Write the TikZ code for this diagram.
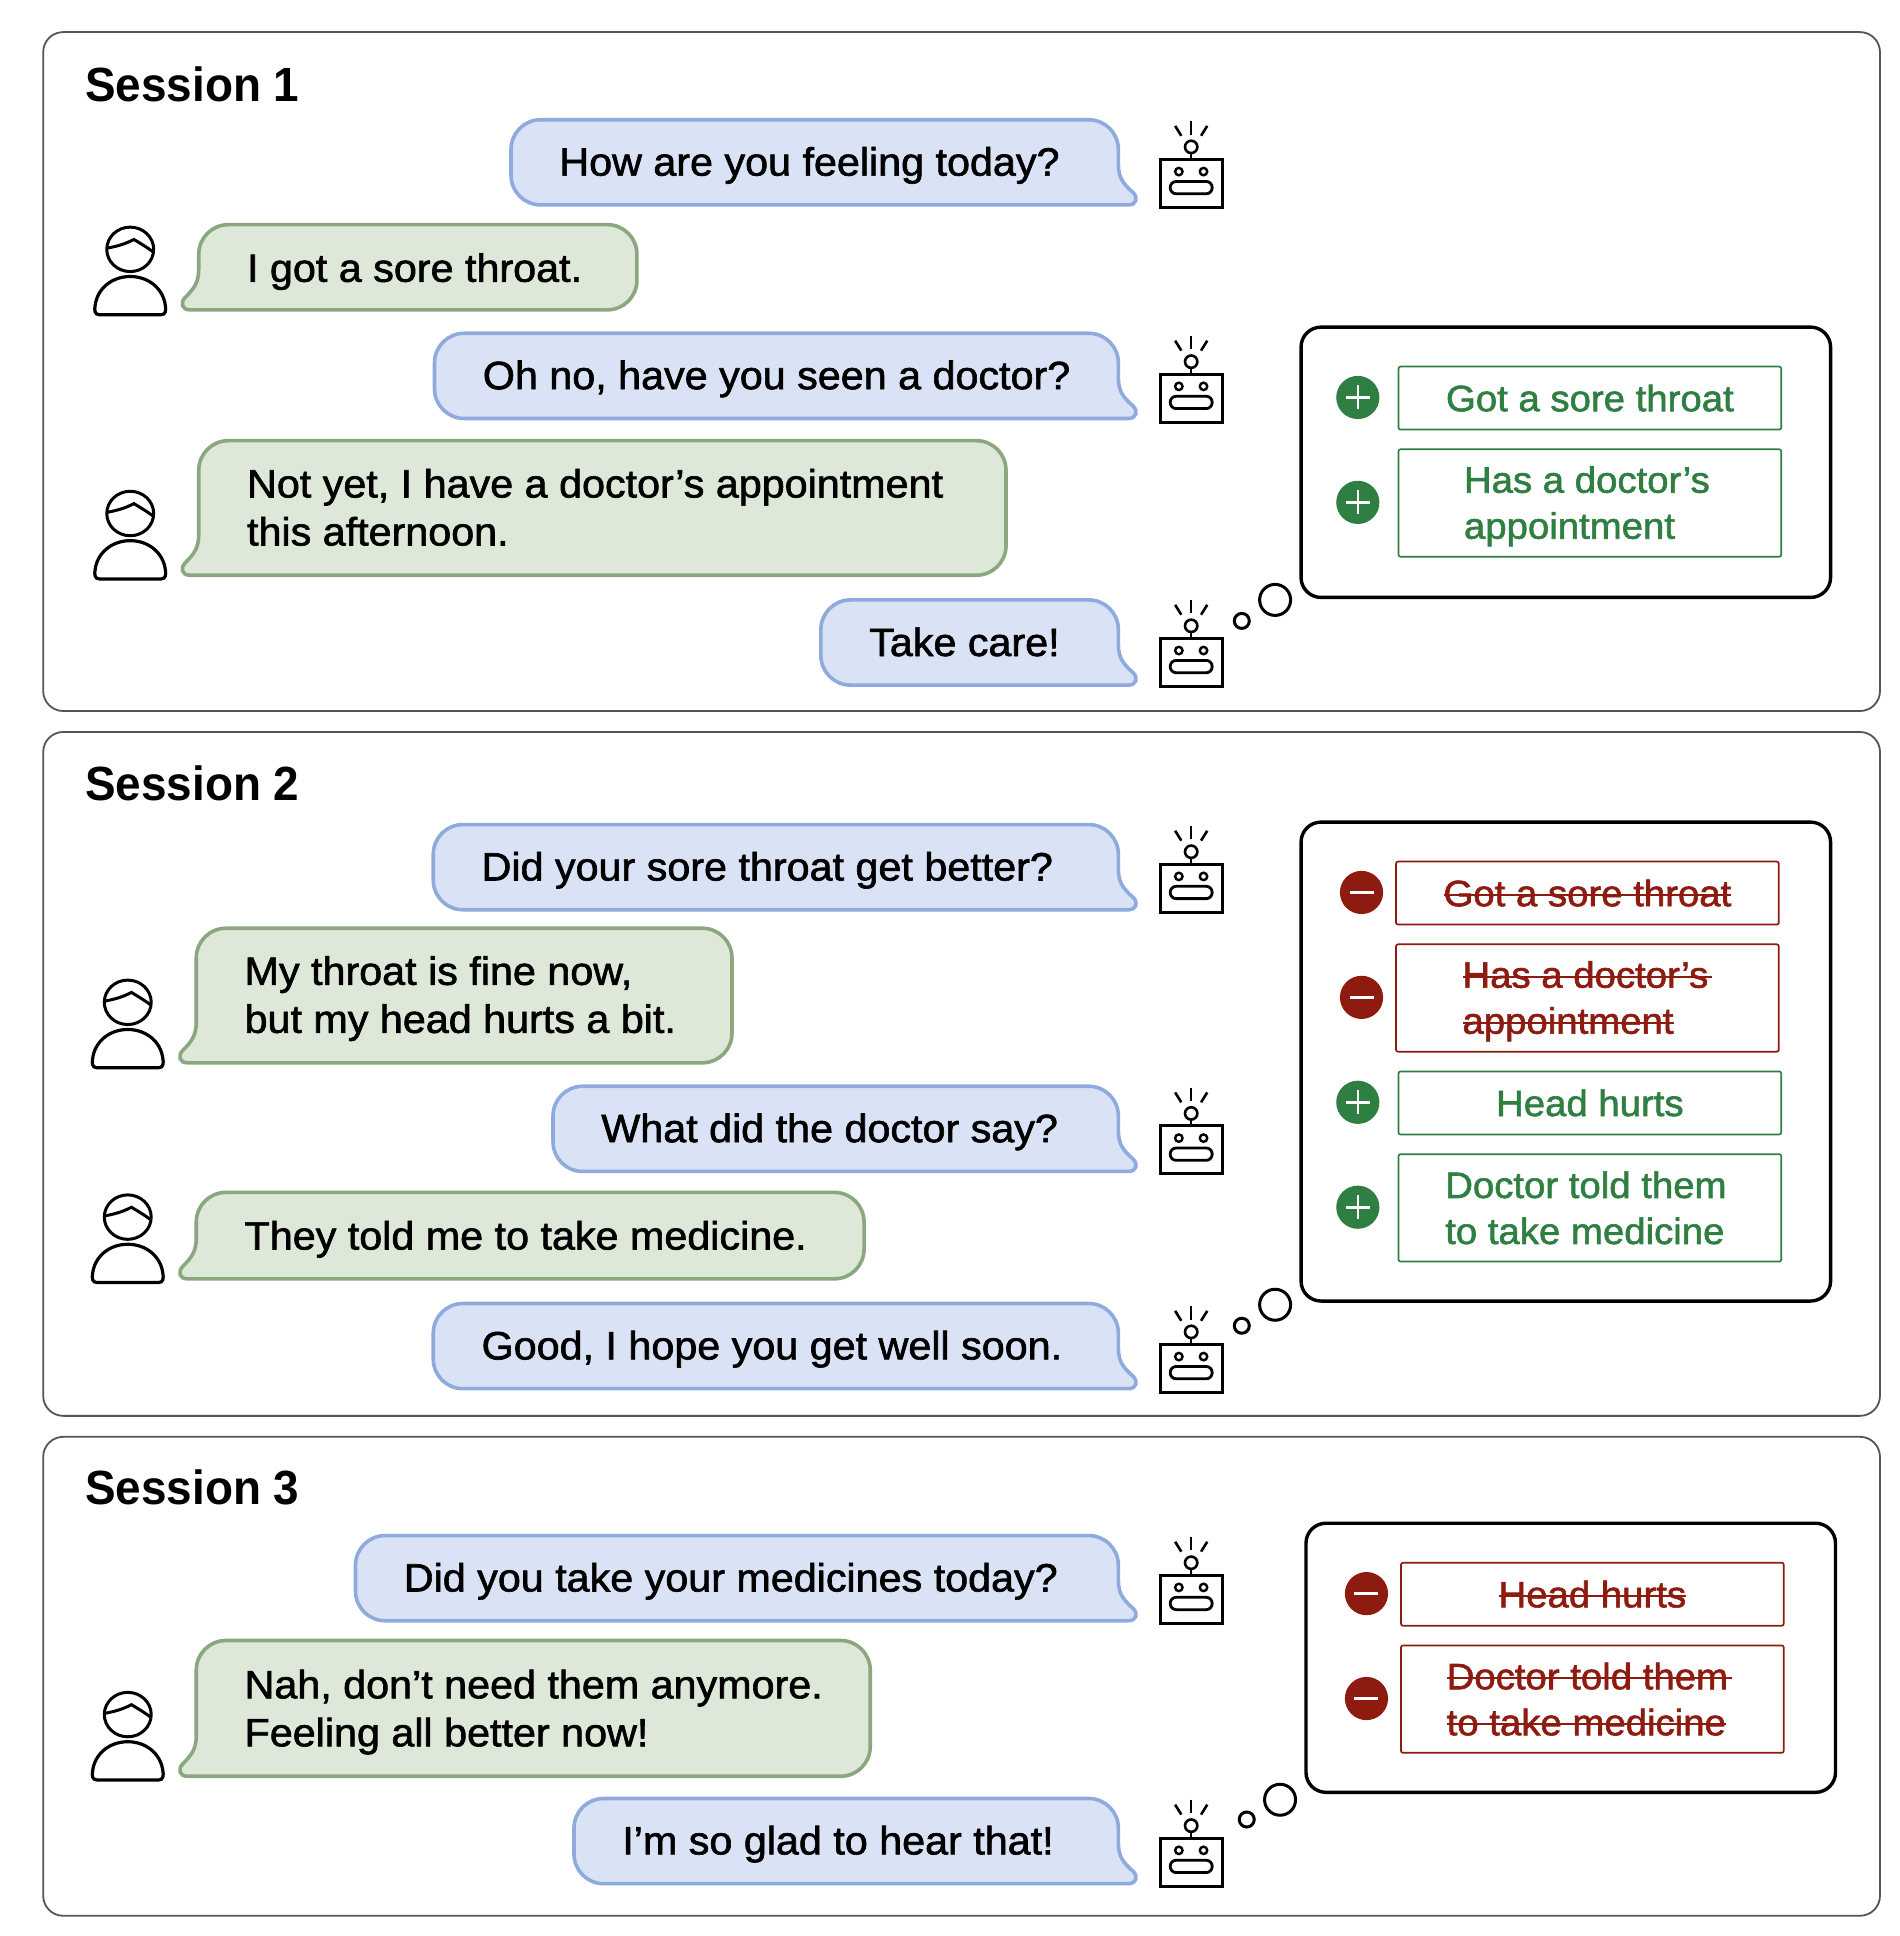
\documentclass[tikz,border=0pt]{standalone}
\usepackage{fontspec}
\setmainfont[FakeBold=1.6,FakeStretch=1.045]{Liberation Sans}
\newfontfamily\titlefont[FakeStretch=0.955]{Liberation Sans Bold}
\usetikzlibrary{positioning,calc}
\definecolor{agentfill}{HTML}{DAE3F5}
\definecolor{agentline}{HTML}{8FAADC}
\definecolor{userfill}{HTML}{DDE8D9}
\definecolor{userline}{HTML}{8BA77F}
\definecolor{addcol}{HTML}{2F7F43}
\definecolor{dropcol}{HTML}{8E1B10}
\definecolor{panelline}{HTML}{555555}

\newcommand{\agentbubble}[2]{
    \draw[agentshape] ({#1+24},#2) -- (882,#2) arc[start angle=-90,end angle=0,radius=24] -- (906,{#2+36}) .. controls (906,{#2+47}) and (910,{#2+52}) .. (918,{#2+59}) .. controls (922,{#2+63}) and (921,{#2+69}) .. (914,{#2+69}) -- ({#1+24},{#2+69}) arc[start angle=90,end angle=180,radius=24] -- (#1,{#2+24}) arc[start angle=180,end angle=270,radius=24] -- cycle;
}
\newcommand{\userbubble}[4]{
    \draw[usershape] ({#1+24},#3) -- ({#2-24},#3) arc[start angle=-90,end angle=0,radius=24] -- (#2,{#4-24}) arc[start angle=0,end angle=90,radius=24] -- ({#1-7},#4) .. controls ({#1-14},#4) and ({#1-15},{#4-6}) .. ({#1-11},{#4-10}) .. controls ({#1-4},{#4-17}) and (#1,{#4-22}) .. (#1,{#4-33}) -- (#1,{#3+24}) arc[start angle=180,end angle=270,radius=24] -- cycle;
}
\newsavebox{\strkbox}
\newcommand{\strk}[2][0pt]{\sbox{\strkbox}{#2}\usebox{\strkbox}\kern-\wd\strkbox\rule[0.27em]{\dimexpr\wd\strkbox+#1\relax}{0.06em}}
\newcommand{\tallstart}{\rule{0pt}{33pt}}

\begin{document}
\begin{tikzpicture}[x=1.2344pt,y=-1.2344pt,
    panel/.style={draw=panelline,line width=1.8pt,rounded corners=20pt},
    thinkbox/.style={draw=black,line width=3.4pt,rounded corners=20pt},
    agentshape/.style={draw=agentline,fill=agentfill,line width=3.6pt},
    usershape/.style={draw=userline,fill=userfill,line width=3.6pt},
    sessiontitle/.style={anchor=west,inner sep=0pt,font=\titlefont\fontsize{48}{56}\selectfont},
    talk/.style={anchor=west,inner sep=0pt,align=left,font=\fontsize{39.5}{48}\selectfont},
    item/.style={draw=#1,text=#1,line width=1.7pt,rounded corners=2pt,inner sep=0pt,minimum width=382.7pt,align=left,font=\fontsize{36.7}{46}\selectfont},
    itemshort/.style={item=#1,minimum height=63pt},
    itemtall/.style={item=#1,minimum height=107.4pt},
    addmark/.style={circle,fill=addcol,inner sep=0pt,minimum size=43.2pt,path picture={
        \draw[white,line width=2.6pt] ([xshift=-12pt]path picture bounding box.center) -- ([xshift=12pt]path picture bounding box.center);
        \draw[white,line width=2.6pt] ([yshift=-12pt]path picture bounding box.center) -- ([yshift=12pt]path picture bounding box.center);}},
    dropmark/.style={circle,fill=dropcol,inner sep=0pt,minimum size=43.2pt,path picture={
        \draw[white,line width=2.8pt] ([xshift=-12pt]path picture bounding box.center) -- ([xshift=12pt]path picture bounding box.center);}},
    bubblesmall/.style={circle,draw=black,line width=3pt,inner sep=0pt,minimum size=15pt},
    bubblelarge/.style={circle,draw=black,line width=3pt,inner sep=0pt,minimum size=31pt},
    person/.pic={
        \draw[black,line width=3pt] (0,18) ellipse[x radius=19,y radius=18];
        \draw[black,line width=3pt] (-18.5,17) .. controls (-8,15) and (-3,13) .. (3,10) .. controls (8,13) and (13,16) .. (18.5,20);
        \draw[black,line width=3.2pt] (-25,71) .. controls (-29,71) and (-29,67) .. (-28.5,64) .. controls (-27,50) and (-15,40) .. (0,40) .. controls (15,40) and (27,50) .. (28.5,64) .. controls (29,67) and (29,71) .. (25,71) -- cycle;
    },
    robot/.pic={
        \draw[black,line width=3pt] (-25,0) rectangle (25,39);
        \draw[black,line width=2.6pt] (0,0) -- (0,-5);
        \draw[black,line width=2.6pt] (0,-10) circle[radius=5];
        \draw[black,line width=2.6pt] (0,-31) -- (0,-20);
        \draw[black,line width=2.6pt] (-13,-27) -- (-8,-19);
        \draw[black,line width=2.6pt] (13,-27) -- (8,-19);
        \draw[black,line width=2.4pt] (-10,10) circle[radius=3];
        \draw[black,line width=2.4pt] (10,10) circle[radius=3];
        \draw[black,line width=2.8pt,rounded corners=6pt] (-17,18) rectangle (17,28);
    }]

    \useasboundingbox (0,0) rectangle (1539.2,1568.4);
    \fill[white] (0,0) rectangle (1539.2,1568.4);

    \draw[panel] (35,26) rectangle (1523,576);
    \draw[panel] (35,593) rectangle (1523,1147);
    \draw[panel] (35,1164) rectangle (1523,1552);

    \node[sessiontitle] (title1) at (69,68) {Session 1};
    \node[sessiontitle] (title2) at (69,635) {Session 2};
    \node[sessiontitle] (title3) at (69,1205) {Session 3};

    \agentbubble{414}{97}
    \agentbubble{352}{270}
    \agentbubble{665}{486}
    \agentbubble{351}{668}
    \agentbubble{448}{880}
    \agentbubble{351}{1056}
    \agentbubble{288}{1244}
    \agentbubble{465}{1457}

    \userbubble{161}{516}{182}{251}
    \userbubble{161}{815}{357}{466}
    \userbubble{159}{593}{752}{861}
    \userbubble{159}{700}{966}{1036}
    \userbubble{159}{705}{1329}{1439}

    \node[talk] (a1) at (453,134) {How are you feeling today?};
    \node[talk] (u1) at (200,220) {I got a sore throat.};
    \node[talk] (a2) at (391,307) {Oh no, have you seen a doctor?};
    \node[talk] (u2) at (200,411) {Not yet, I have a doctor’s appointment\\this afternoon.};
    \node[talk] (a3) at (704,520) {Take care!};
    \node[talk] (a4) at (390,705) {Did your sore throat get better?};
    \node[talk] (u3) at (198,809) {My throat is fine now,\\but my head hurts a bit.};
    \node[talk] (a5) at (487,917) {What did the doctor say?};
    \node[talk] (u4) at (198,1004) {They told me to take medicine.};
    \node[talk] (a6) at (390,1093) {Good, I hope you get well soon.};
    \node[talk] (a7) at (327,1281) {Did you take your medicines today?};
    \node[talk] (u5) at (198,1387) {Nah, don’t need them anymore.\\Feeling all better now!};
    \node[talk] (a8) at (504,1494) {I’m so glad to hear that!};

    \pic (user1) at (105.5,184) {person};
    \pic (user2) at (105.5,398) {person};
    \pic (user3) at (103.5,794) {person};
    \pic (user4) at (103.5,968) {person};
    \pic (user5) at (103.5,1371) {person};

    \pic (bot1) at (965,129) {robot};
    \pic (bot2) at (965,303) {robot};
    \pic (bot3) at (965,517) {robot};
    \pic (bot4) at (965,700) {robot};
    \pic (bot5) at (965,912) {robot};
    \pic (bot6) at (965,1089) {robot};
    \pic (bot7) at (965,1276) {robot};
    \pic (bot8) at (965,1489) {robot};

    \draw[thinkbox] (1054,265) rectangle (1483,484);
    \draw[thinkbox] (1054,666) rectangle (1483,1054);
    \draw[thinkbox] (1058,1234) rectangle (1487,1452);

    \node[bubblesmall] (small1) at (1006,503) {};
    \node[bubblelarge] (large1) at (1033,486) {};
    \node[bubblesmall] (small2) at (1006,1074) {};
    \node[bubblelarge] (large2) at (1033,1057) {};
    \node[bubblesmall] (small3) at (1010,1474) {};
    \node[bubblelarge] (large3) at (1037,1458) {};

    \node[addmark] (plus1) at (1100,322) {};
    \node[addmark] (plus2) at (1100,407) {};
    \node[itemshort=addcol] (fact1) at (1288,322.5) {Got a sore throat};
    \node[itemtall=addcol] (fact2) at (1288,407.5) {\tallstart Has a doctor’s\hspace*{6pt}\\appointment};

    \node[dropmark] (minus1) at (1103,723) {};
    \node[dropmark] (minus2) at (1103,808) {};
    \node[addmark] (plus3) at (1100,893) {};
    \node[addmark] (plus4) at (1100,978) {};
    \node[itemshort=dropcol] (fact3) at (1286,723.5) {\strk{Got a sore throat}};
    \node[itemtall=dropcol] (fact4) at (1286,808.5) {\tallstart\strk[4pt]{Has a doctor’s}\\\strk{appointment}};
    \node[itemshort=addcol] (fact5) at (1288,893.5) {Head hurts};
    \node[itemtall=addcol] (fact6) at (1288,978.5) {Doctor told them\hspace*{8pt}\\to take medicine};

    \node[dropmark] (minus3) at (1107,1291) {};
    \node[dropmark] (minus4) at (1107,1376) {};
    \node[itemshort=dropcol] (fact7) at (1290,1291.5) {\strk{Head hurts}};
    \node[itemtall=dropcol] (fact8) at (1290,1376.5) {\strk[4pt]{Doctor told them}\hspace*{6pt}\\\strk{to take medicine}};
\end{tikzpicture}
\end{document}
